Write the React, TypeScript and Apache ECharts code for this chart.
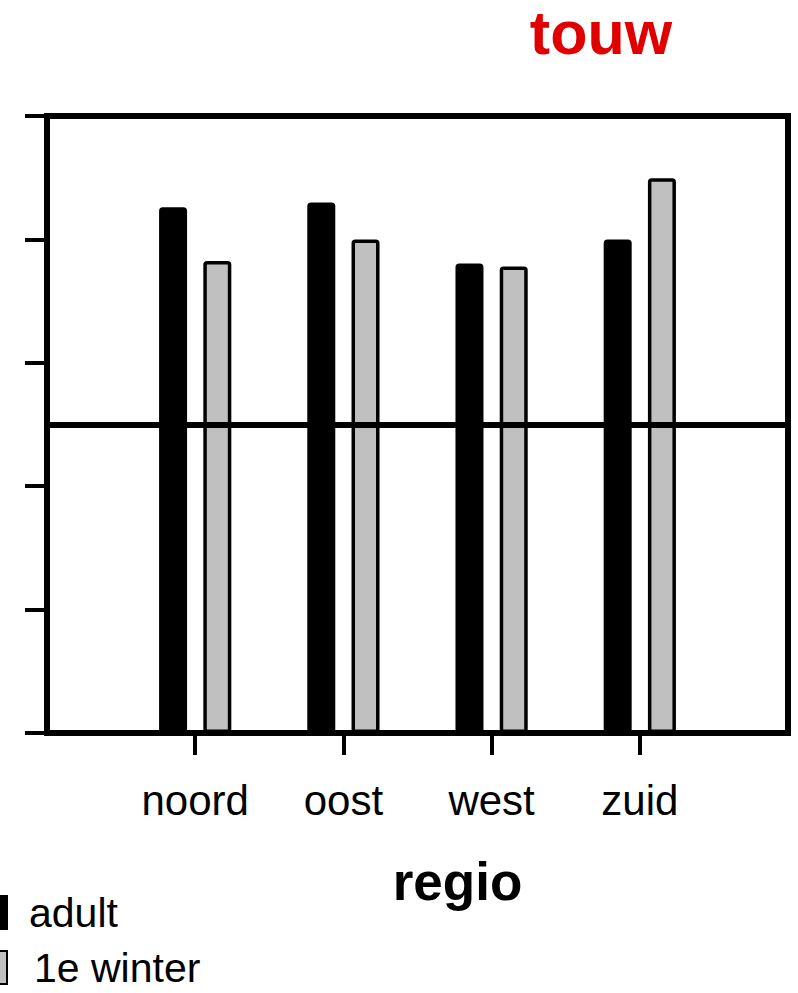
import React, { useEffect, useRef } from "react";
import * as echarts from "echarts";

const categories = ["", "noord", "oost", "west", "zuid", ""];
const adultValues = [null, 0.852, 0.86, 0.761, 0.8, null];
const winterValues = [null, 0.765, 0.8, 0.756, 0.899, null];
const seriesNames = ["adult", "1e winter"];
const referenceValue = 0.5;
const yTicks = { min: 0, max: 1, interval: 0.2 };

const FONT = "Liberation Sans, Arial, sans-serif";

export default function App() {
  const ref = useRef<HTMLDivElement>(null);
  useEffect(() => {
    if (!ref.current) return;
    const chart = echarts.init(ref.current, null, { renderer: "svg" });
    const legendBase = {
      orient: "vertical",
      left: -26,
      padding: 0,
      itemWidth: 32,
      itemHeight: 33,
      icon: "rect",
      selectedMode: false,
    };
    chart.setOption({
      animation: false,
      backgroundColor: "#ffffff",
      title: {
        text: "touw",
        left: 596,
        top: -3,
        textAlign: "center",
        textStyle: { color: "#e00000", fontSize: 61, fontWeight: "bold", fontFamily: FONT },
      },
      legend: [
        {
          ...legendBase,
          top: 892,
          data: [seriesNames[0]],
          textStyle: { fontSize: 41, color: "#000", fontFamily: FONT, padding: [0, 0, 0, 17] },
        },
        {
          ...legendBase,
          top: 947,
          data: [seriesNames[1]],
          textStyle: { fontSize: 41, color: "#000", fontFamily: FONT, padding: [0, 0, 0, 22] },
        },
      ],
      grid: {
        left: 47,
        right: 10,
        top: 116,
        bottom: 260,
        show: true,
        borderColor: "#000",
        borderWidth: 6,
        containLabel: false,
      },
      xAxis: {
        type: "category",
        data: categories,
        boundaryGap: false,
        axisLine: { show: true, lineStyle: { color: "#000", width: 6 } },
        axisTick: {
          show: true,
          length: 22,
          lineStyle: { color: "#000", width: 4 },
          interval: (i: number, v: string) => v !== "",
        },
        axisLabel: { fontSize: 42, color: "#000", fontFamily: FONT, margin: 46, interval: 0 },
        splitLine: { show: false },
        name: "regio",
        nameLocation: "middle",
        nameGap: 122,
        nameTextStyle: {
          fontSize: 53,
          fontWeight: "bold",
          color: "#000",
          fontFamily: FONT,
          padding: [0, 0, 0, 80],
        },
      },
      yAxis: {
        type: "value",
        min: yTicks.min,
        max: yTicks.max,
        interval: yTicks.interval,
        axisLine: { show: true, lineStyle: { color: "#000", width: 6 } },
        axisTick: { show: true, length: 22, lineStyle: { color: "#000", width: 4 } },
        axisLabel: { show: false },
        splitLine: { show: false },
      },
      series: [
        {
          name: seriesNames[0],
          type: "bar",
          data: adultValues,
          barWidth: 28,
          barGap: "58%",
          itemStyle: { color: "#000", borderColor: "#000", borderWidth: 3.5, borderRadius: 2 },
          markLine: {
            silent: true,
            symbol: "none",
            label: { show: false },
            lineStyle: { color: "#000", width: 6, type: "solid" },
            data: [{ yAxis: referenceValue }],
          },
        },
        {
          name: seriesNames[1],
          type: "bar",
          data: winterValues,
          barWidth: 28,
          itemStyle: { color: "#c0c0c0", borderColor: "#000", borderWidth: 3.5, borderRadius: 2 },
        },
      ],
    });
    return () => chart.dispose();
  }, []);
  return (
    <div
      ref={ref}
      style={{ position: "fixed", left: 0, top: 0, width: 798, height: 993 }}
    />
  );
}
